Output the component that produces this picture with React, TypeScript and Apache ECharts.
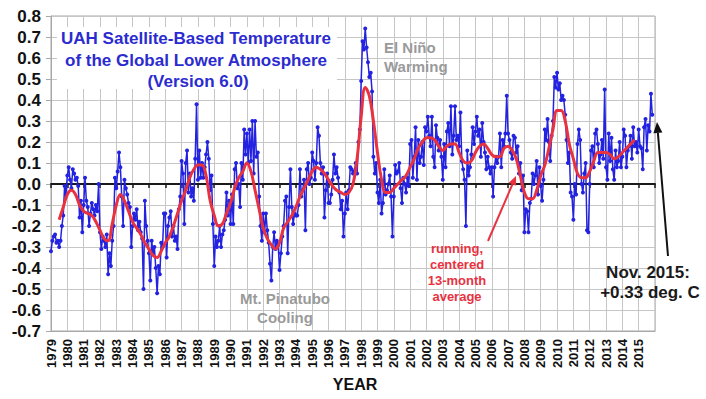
import { useEffect, useRef } from 'react';
import * as echarts from 'echarts';

// ---------- data ----------
const FIRST_YEAR = 1979; // first monthly value = Jan 1979

const yearTicks = [
  '1979', '1980', '1981', '1982', '1983', '1984', '1985', '1986', '1987', '1988',
  '1989', '1990', '1991', '1992', '1993', '1994', '1995', '1996', '1997', '1998',
  '1999', '2000', '2001', '2002', '2003', '2004', '2005', '2006', '2007', '2008',
  '2009', '2010', '2011', '2012', '2013', '2014', '2015',
];

const yTickLabels = [
  '-0.7', '-0.6', '-0.5', '-0.4', '-0.3', '-0.2', '-0.1', '0.0',
  '0.1', '0.2', '0.3', '0.4', '0.5', '0.6', '0.7', '0.8',
];

// Monthly global lower-troposphere anomaly (deg C), Jan 1979 .. Nov 2015
const monthlyAnomaly = [
  -0.32, -0.27, -0.25, -0.24, -0.28, -0.27, -0.30, -0.27, -0.20, -0.15, -0.01, -0.05,
  0.04, 0.08, 0.02, -0.02, 0.07, 0.05, 0.02, 0.03, -0.01, -0.16, -0.08, -0.23,
  -0.10, 0.03, -0.08, -0.11, -0.20, -0.14, -0.09, -0.12, -0.15, -0.10, -0.13, 0.00,
  -0.23, -0.31, -0.25, -0.27, -0.30, -0.24, -0.43, -0.33, -0.39, -0.27, -0.20, 0.03,
  -0.02, 0.06, 0.15, 0.08, -0.06, -0.20, 0.02, -0.02, -0.05, -0.09, -0.11, -0.30,
  -0.20, -0.14, -0.17, -0.12, -0.22, -0.18, -0.23, -0.26, -0.50, -0.08, -0.20, -0.27,
  -0.33, -0.46, -0.27, -0.33, -0.30, -0.40, -0.52, -0.39, -0.43, -0.28, -0.30, -0.14,
  -0.14, -0.35, -0.20, -0.16, -0.13, -0.25, -0.20, -0.27, -0.25, -0.31, -0.12, -0.06,
  0.11, 0.05, -0.19, 0.10, 0.16, -0.04, 0.05, -0.06, -0.02, -0.08, 0.12, 0.38,
  0.02, 0.16, 0.03, 0.10, 0.03, 0.08, 0.14, 0.20, 0.12, -0.03, 0.04, -0.19,
  -0.39, -0.25, -0.30, -0.27, -0.20, -0.30, -0.24, -0.22, -0.17, -0.04, -0.15, -0.08,
  -0.19, -0.05, -0.19, 0.07, 0.10, -0.02, 0.00, -0.11, 0.10, 0.02, 0.26, 0.14,
  0.24, 0.10, 0.26, 0.11, 0.30, 0.05, 0.30, 0.13, 0.15, -0.06, -0.20, -0.27,
  -0.14, -0.23, -0.14, -0.22, -0.28, -0.38, -0.46, -0.30, -0.23, -0.31, -0.27, -0.29,
  -0.41, -0.33, -0.25, -0.20, -0.08, -0.06, -0.33, -0.11, 0.07, -0.11, -0.19, -0.14,
  -0.15, -0.15, -0.10, 0.07, -0.06, -0.03, 0.02, -0.22, 0.07, 0.10, 0.00, 0.03,
  0.15, 0.11, 0.02, 0.10, 0.27, 0.23, 0.10, 0.05, 0.08, -0.16, -0.03, 0.05,
  -0.09, -0.09, -0.05, 0.02, 0.14, 0.05, 0.08, 0.03, -0.04, -0.12, -0.08, -0.25,
  -0.14, -0.04, -0.12, -0.03, 0.08, 0.07, 0.05, 0.06, 0.10, 0.05, 0.20, 0.26,
  0.49, 0.68, 0.64, 0.74, 0.65, 0.58, 0.51, 0.53, 0.44, 0.13, 0.05, 0.10,
  -0.04, -0.09, 0.02, -0.14, -0.09, 0.07, -0.05, -0.03, 0.00, 0.04, -0.06, -0.25,
  -0.06, 0.09, 0.05, 0.06, 0.10, -0.02, -0.09, 0.03, 0.00, -0.04, 0.03, -0.01,
  0.19, 0.21, 0.03, 0.13, 0.27, 0.02, 0.21, 0.10, 0.13, 0.20, 0.09, 0.27,
  0.25, 0.32, 0.23, 0.18, 0.32, 0.13, 0.08, 0.28, 0.22, 0.16, 0.21, 0.13,
  0.02, 0.19, 0.08, 0.25, 0.29, 0.18, 0.37, 0.14, 0.23, 0.37, 0.21, 0.23,
  0.18, 0.34, 0.11, 0.07, 0.02, -0.20, 0.16, 0.04, 0.08, 0.14, 0.27, 0.19,
  0.25, 0.32, 0.23, 0.26, 0.13, 0.29, 0.20, 0.15, 0.07, 0.13, 0.08, 0.05,
  0.08, -0.06, 0.08, 0.13, 0.10, 0.13, 0.24, 0.08, 0.21, 0.18, 0.24, 0.42,
  0.24, 0.21, 0.15, 0.12, 0.23, 0.22, 0.15, 0.18, 0.05, 0.10, -0.03, 0.04,
  -0.23, -0.12, -0.13, -0.23, -0.09, -0.07, 0.05, 0.00, 0.04, 0.11, -0.05, 0.08,
  -0.01, -0.08, 0.02, 0.26, 0.21, 0.31, 0.20, 0.11, 0.23, 0.30, 0.51, 0.46,
  0.53, 0.45, 0.48, 0.40, 0.42, 0.40, 0.33, 0.21, 0.10, 0.15, -0.04, -0.06,
  -0.17, 0.00, -0.05, 0.19, 0.26, 0.21, 0.00, -0.04, 0.05, 0.10, -0.22, -0.23,
  0.00, 0.16, 0.18, 0.08, 0.24, 0.26, 0.19, 0.10, 0.14, 0.21, 0.12, 0.45,
  0.08, 0.02, 0.24, 0.11, 0.22, 0.07, 0.02, 0.16, 0.08, 0.11, 0.20, 0.08,
  0.13, 0.26, 0.23, 0.08, 0.16, 0.18, 0.23, 0.12, 0.27, 0.18, 0.20, 0.15,
  0.26, 0.18, 0.17, 0.07, 0.27, 0.31, 0.16, 0.28, 0.25, 0.43, 0.33,
];

// Running, centered 13-month average,
// one reading every 3 months starting Jul 1979 (month index 6)
const runningMeanFirstMonth = 6;
const runningMeanStepMonths = 3;
const runningMean = [
  -0.17, -0.11, -0.05, -0.03, -0.05, -0.10, -0.13, -0.14, -0.15, -0.18, -0.22, -0.26,
  -0.27, -0.19, -0.10, -0.05, -0.08, -0.13, -0.18, -0.21, -0.24, -0.28, -0.31, -0.34,
  -0.35, -0.32, -0.28, -0.25, -0.20, -0.14, -0.08, -0.03, 0.03, 0.07, 0.09, 0.09,
  0.04, -0.08, -0.15, -0.20, -0.19, -0.14, -0.09, -0.02, 0.03, 0.06, 0.10, 0.06,
  -0.03, -0.12, -0.21, -0.26, -0.29, -0.31, -0.28, -0.21, -0.18, -0.15, -0.11, -0.06,
  -0.02, 0.02, 0.06, 0.08, 0.07, 0.05, 0.02, -0.01, -0.03, -0.04, -0.05, -0.04,
  0.00, 0.12, 0.32, 0.46, 0.42, 0.30, 0.15, 0.02, -0.04, -0.04, -0.02, 0.00,
  0.02, 0.04, 0.08, 0.12, 0.17, 0.20, 0.22, 0.22, 0.21, 0.18, 0.16, 0.18,
  0.19, 0.19, 0.15, 0.11, 0.10, 0.11, 0.15, 0.18, 0.19, 0.17, 0.14, 0.13,
  0.13, 0.17, 0.18, 0.16, 0.12, 0.04, -0.04, -0.07, -0.07, -0.03, 0.04, 0.09,
  0.17, 0.26, 0.35, 0.35, 0.30, 0.19, 0.12, 0.05, 0.03, 0.03, 0.06, 0.11,
  0.15, 0.15, 0.15, 0.14, 0.12, 0.13, 0.15, 0.17, 0.19, 0.21,
];

// ---------- styles ----------
const FONT = 'Liberation Sans, Arial, Helvetica, sans-serif';
const BLUE = '#2222e0';
const RED = '#e8323f';
const GRID_COLOR = '#c6c6c6';

function arrow(x1: number, y1: number, x2: number, y2: number, color: string, width: number, head: number, half: number) {
  const dx = x2 - x1;
  const dy = y2 - y1;
  const len = Math.sqrt(dx * dx + dy * dy);
  const ux = dx / len;
  const uy = dy / len;
  const bx = x2 - ux * head;
  const by = y2 - uy * head;
  return [
    {
      type: 'line',
      z: 20,
      shape: { x1, y1, x2: bx, y2: by },
      style: { stroke: color, lineWidth: width },
    },
    {
      type: 'polygon',
      z: 20,
      shape: {
        points: [
          [x2, y2],
          [bx - uy * half, by + ux * half],
          [bx + uy * half, by - ux * half],
        ],
      },
      style: { fill: color },
    },
  ];
}

function text(x: number, y: number, str: string, size: number, color: string, align: string = 'center') {
  return {
    type: 'text',
    z: 20,
    x,
    y,
    style: {
      text: str,
      fill: color,
      font: `bold ${size}px ${FONT}`,
      textAlign: align,
      textVerticalAlign: 'middle',
    },
  };
}

export default function App() {
  const ref = useRef<HTMLDivElement>(null);

  useEffect(() => {
    if (!ref.current) return;
    const chart = echarts.init(ref.current, undefined, { renderer: 'svg' });

    const blueData = monthlyAnomaly.map((v, i) => [FIRST_YEAR + i / 12, v]);
    const redData = runningMean.map((v, k) => [
      FIRST_YEAR + (runningMeanFirstMonth + k * runningMeanStepMonths) / 12,
      v,
    ]);
    const lastYear = Number(yearTicks[yearTicks.length - 1]) + 1;

    const xLabelFmt = (v: number) => {
      const s = String(Math.round(v));
      return yearTicks.includes(s) ? s : '';
    };

    chart.setOption({
      animation: false,
      backgroundColor: '#ffffff',
      grid: {
        left: 51,
        right: 51,
        top: 16,
        bottom: 68,
        show: true,
        borderColor: '#a8a8a8',
        borderWidth: 1,
        backgroundColor: 'transparent',
      },
      xAxis: [
        {
          type: 'value',
          min: FIRST_YEAR,
          max: lastYear,
          interval: 1,
          position: 'bottom',
          axisLine: { show: true, onZero: false, lineStyle: { color: '#a8a8a8', width: 1 } },
          axisTick: { show: false },
          splitLine: { show: true, lineStyle: { color: GRID_COLOR, width: 1 } },
          axisLabel: {
            show: true,
            rotate: 90,
            margin: 8,
            formatter: xLabelFmt,
            fontFamily: FONT,
            fontWeight: 'bold',
            fontSize: 13,
            color: '#111111',
            showMaxLabel: false,
          },
        },
        {
          type: 'value',
          min: FIRST_YEAR,
          max: lastYear,
          interval: 1,
          position: 'bottom',
          axisLine: { show: true, onZero: true, lineStyle: { color: '#1a1a1a', width: 2 } },
          axisTick: { show: true, length: 4, lineStyle: { color: '#1a1a1a', width: 1.5 } },
          splitLine: { show: false },
          axisLabel: { show: false },
        },
      ],
      yAxis: {
        type: 'value',
        min: -0.7,
        max: 0.8,
        interval: 0.1,
        axisLine: { show: true, lineStyle: { color: '#a8a8a8', width: 1 } },
        axisTick: { show: true, length: 5, lineStyle: { color: '#a8a8a8' } },
        splitLine: { show: true, lineStyle: { color: GRID_COLOR, width: 1 } },
        axisLabel: {
          margin: 10,
          fontFamily: FONT,
          fontWeight: 'bold',
          fontSize: 17,
          color: '#111111',
          formatter: (v: number) => {
            const s = Math.abs(v) < 1e-9 ? '0.0' : v.toFixed(1);
            return yTickLabels.includes(s) ? s : '';
          },
        },
      },
      series: [
        {
          name: 'Monthly',
          type: 'line',
          xAxisIndex: 0,
          data: blueData,
          symbol: 'circle',
          symbolSize: 4,
          z: 3,
          lineStyle: { color: BLUE, width: 1.5 },
          itemStyle: { color: BLUE },
        },
        {
          name: '13-month running average',
          type: 'line',
          xAxisIndex: 0,
          data: redData,
          symbol: 'none',
          smooth: 0.4,
          z: 4,
          lineStyle: { color: RED, width: 3 },
        },
      ],
      graphic: [
        {
          type: 'rect',
          z: 1,
          shape: { x: 57, y: 27, width: 280, height: 62 },
          style: { fill: '#ffffff' },
        },
        text(196, 38, 'UAH Satellite-Based Temperature', 17, '#2b2bd0'),
        text(196, 60, 'of the Global Lower Atmosphere', 17, '#2b2bd0'),
        text(198, 81, '(Version 6.0)', 17, '#2b2bd0'),
        text(384, 47, 'El Niño', 15, '#9a9a9a', 'left'),
        text(384, 66, 'Warming', 15, '#9a9a9a', 'left'),
        text(285, 298, 'Mt. Pinatubo', 15, '#9a9a9a'),
        text(285, 317, 'Cooling', 15, '#9a9a9a'),
        text(457, 248, 'running,', 13, RED),
        text(457, 264, 'centered', 13, RED),
        text(457, 280, '13-month', 13, RED),
        text(457, 296, 'average', 13, RED),
        text(648, 272, 'Nov. 2015:', 17, '#1a1a1a'),
        text(650, 292, '+0.33 deg. C', 17, '#1a1a1a'),
        text(355, 384, 'YEAR', 16, '#111111'),
        ...arrow(488, 241, 516, 176, RED, 2, 9, 4),
        ...arrow(668, 256, 657, 122, '#111111', 2, 11, 4.5),
      ],
    });

    return () => {
      chart.dispose();
    };
  }, []);

  return (
    <div
      ref={ref}
      style={{ position: 'fixed', left: 0, top: 0, width: 706, height: 399, background: '#ffffff' }}
    />
  );
}
